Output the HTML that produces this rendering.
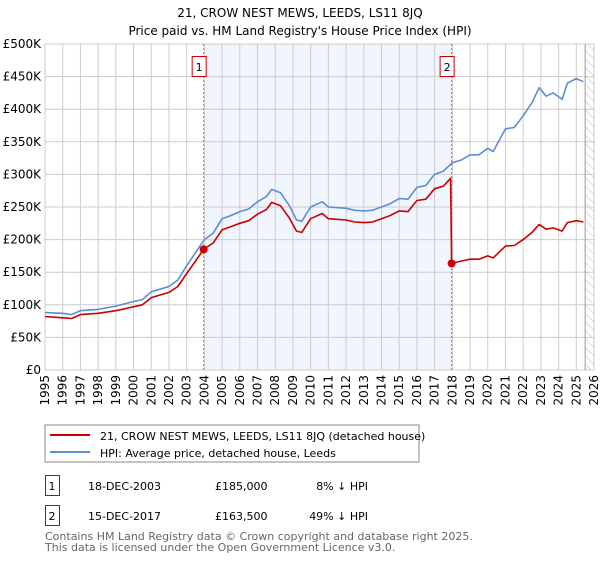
<!DOCTYPE html>
<html><head><meta charset="utf-8"><style>
body{margin:0;background:#fff;font-family:"DejaVu Sans","Liberation Sans",sans-serif;}
svg text{font-family:"DejaVu Sans","Liberation Sans",sans-serif;}
</style></head><body>
<svg id="c" width="600" height="560" xmlns="http://www.w3.org/2000/svg">
<defs><pattern id="hatch" width="6" height="6" patternUnits="userSpaceOnUse" patternTransform="rotate(-45)"><line x1="0" y1="0" x2="0" y2="6" stroke="#bbb" stroke-width="1"/></pattern></defs>
<text x="300" y="17" text-anchor="middle" font-size="12">21, CROW NEST MEWS, LEEDS, LS11 8JQ</text>
<text x="300" y="35" text-anchor="middle" font-size="12">Price paid vs. HM Land Registry's House Price Index (HPI)</text>
<g id="grid"></g><g id="marks"></g>
<rect x="45" y="425" width="374" height="37" fill="#fff" stroke="#888"/>
<line x1="50" y1="435" x2="90" y2="435" stroke="#cc0000" stroke-width="2"/>
<text x="100" y="440" font-size="11">21, CROW NEST MEWS, LEEDS, LS11 8JQ (detached house)</text>
<line x1="50" y1="452" x2="90" y2="452" stroke="#5b8ed6" stroke-width="2"/>
<text x="100" y="457" font-size="11">HPI: Average price, detached house, Leeds</text>
<g font-size="11">
<rect x="45.5" y="475.5" width="14" height="20" fill="none" stroke="#cc0000"/>
<text x="52" y="490" text-anchor="middle">1</text>
<text x="88" y="490">18-DEC-2003</text><text x="215" y="490">£185,000</text><text x="368" y="490" text-anchor="end">8% ↓ HPI</text>
<rect x="45.5" y="505.5" width="14" height="20" fill="none" stroke="#cc0000"/>
<text x="52" y="520" text-anchor="middle">2</text>
<text x="88" y="520">15-DEC-2017</text><text x="215" y="520">£163,500</text><text x="368" y="520" text-anchor="end">49% ↓ HPI</text>
</g>
<text x="45" y="540" font-size="11" fill="#666">Contains HM Land Registry data © Crown copyright and database right 2025.</text>
<text x="45" y="551" font-size="11" fill="#666">This data is licensed under the Open Government Licence v3.0.</text>
</svg>
<script>
const hpiYears=[1995,1996,1996.5,1997,1998,1999,2000,2000.5,2001,2002,2002.5,2003,2003.5,2004,2004.5,2005,2005.5,2006,2006.5,2007,2007.5,2007.8,2008.3,2008.8,2009.2,2009.5,2010,2010.65,2011,2012,2012.5,2013,2013.5,2014,2014.5,2015,2015.5,2016,2016.5,2017,2017.5,2018,2018.5,2019,2019.5,2020,2020.3,2021,2021.5,2022,2022.5,2022.9,2023.3,2023.7,2024.2,2024.5,2025,2025.4];
const hpiValues=[88,87,85,91,93,98,105,108,120,128,138,160,180,200,210,232,237,243,247,258,266,277,272,252,230,228,250,258,250,248,245,244,245,250,255,263,262,280,283,300,305,318,322,330,330,340,335,370,372,390,410,433,420,425,415,440,447,442];
const redYears=[1995,1996,1996.5,1997,1998,1999,2000,2000.5,2001,2002,2002.5,2003,2003.5,2003.96,2004.5,2005,2005.5,2006,2006.5,2007,2007.5,2007.8,2008.3,2008.8,2009.2,2009.5,2010,2010.65,2011,2012,2012.5,2013,2013.5,2014,2014.5,2015,2015.5,2016,2016.5,2017,2017.5,2017.9,2017.96,2018.5,2019,2019.5,2020,2020.3,2021,2021.5,2022,2022.5,2022.9,2023.3,2023.7,2024.2,2024.5,2025,2025.4];
const redValues=[82,80,79,85,87,91,97,100,111,119,128,148,167,185,195,215,220,225,229,239,246,257,252,233,213,211,232,240,232,230,227,226,227,232,237,244,243,260,262,278,282,294,163.5,167,170,170,175,172,190,191,200,211,223,216,218,213,226,229,227];
const saleYears=[2003.96,2017.96];
const saleValues=[185,163.5];
const saleLabels=["1","2"];
const yTicks=[0,50,100,150,200,250,300,350,400,450,500];
const yTickLabels=["£0","£50K","£100K","£150K","£200K","£250K","£300K","£350K","£400K","£450K","£500K"];
const xTicks=[1995,1996,1997,1998,1999,2000,2001,2002,2003,2004,2005,2006,2007,2008,2009,2010,2011,2012,2013,2014,2015,2016,2017,2018,2019,2020,2021,2022,2023,2024,2025,2026];
const NS="http://www.w3.org/2000/svg";
const L=45,R=594,T=44,B=370,x0=1995,x1=2026,yMax=500;
const X=v=>L+(v-x0)/(x1-x0)*(R-L);
const Y=v=>B-v/yMax*(B-T);
const grid=document.getElementById('grid'),marks=document.getElementById('marks');
function mk(tag,attrs,parent){const e=document.createElementNS(NS,tag);for(const k in attrs)e.setAttribute(k,attrs[k]);parent.appendChild(e);return e;}
let e=mk('rect',{x:X(saleYears[0]),y:T,width:X(saleYears[1])-X(saleYears[0]),height:B-T,fill:'#eef3fc',opacity:0.8},grid);


const hs=2025.5;
e=mk('rect',{x:X(hs),y:T,width:R-X(hs),height:B-T,fill:'url(#hatch)'},grid);


yTicks.forEach((t,i)=>{
 let l=mk('line',{x1:L,x2:R,y1:Y(t),y2:Y(t),stroke:'#ccc'},grid);
 
 
 let tx=mk('text',{x:L-4,y:Y(t)+4,'text-anchor':'end','font-size':12},grid);tx.textContent=yTickLabels[i];
 
 
});
xTicks.forEach(t=>{
 let l=mk('line',{x1:X(t),x2:X(t),y1:T,y2:B,stroke:'#ccc'},grid);
 
 
 let tx=mk('text',{x:0,y:0,'text-anchor':'end','font-size':12,transform:`translate(${X(t)+4},${B+5}) rotate(-90)`},grid);tx.textContent=t;
 
 
});
e=mk('line',{x1:X(hs),x2:X(hs),y1:T,y2:B,stroke:'#999'},grid);


saleYears.forEach((s,i)=>{
 let l=mk('line',{x1:X(s),x2:X(s),y1:T,y2:B,stroke:'#e06060','stroke-dasharray':'2,2'},grid);
 
 
 let r=mk('rect',{x:X(s)-11.5,y:56.5,width:14,height:20,fill:'#fff',stroke:'#cc0000'},grid);
 
 
 let tx=mk('text',{x:X(s)-4.5,y:71,'text-anchor':'middle','font-size':11},grid);tx.textContent=saleLabels[i];
 
 
});
function line(xs,vs,col,name){
 const p=mk('polyline',{points:xs.map((x,i)=>X(x).toFixed(1)+','+Y(vs[i]).toFixed(1)).join(' '),fill:'none',stroke:col,'stroke-width':1.6,'stroke-linejoin':'round'},marks);
 
 
}
line(hpiYears,hpiValues,'#5b8ed6','hpi-line');
line(redYears,redValues,'#cc0000','property-price-line');
saleYears.forEach((s,i)=>{
 const c=mk('circle',{cx:X(s),cy:Y(saleValues[i]),r:4,fill:'#cc0000'},marks);
 
 
});
</script>
</body></html>
